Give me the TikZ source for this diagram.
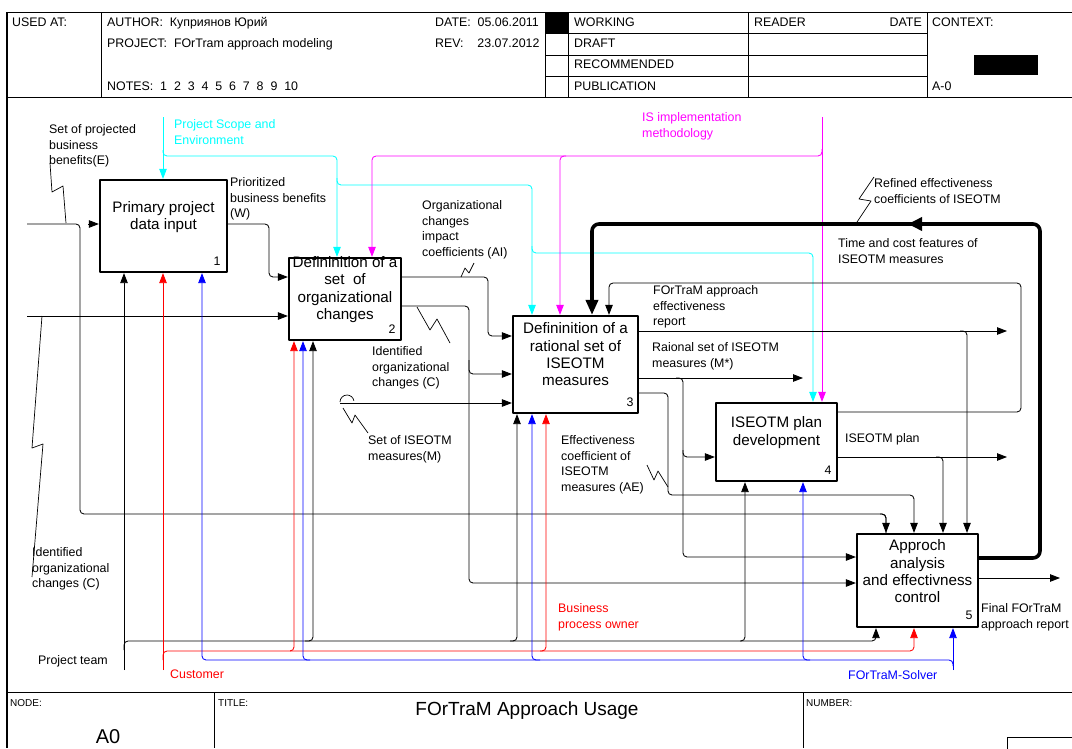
\documentclass[tikz,border=0pt]{standalone}
\usepackage{fontspec}
\setmainfont{Liberation Sans}
\usetikzlibrary{arrows.meta}
\definecolor{cyn}{RGB}{0,255,255}
\definecolor{mgn}{RGB}{255,0,255}
\definecolor{rdd}{RGB}{255,0,0}
\definecolor{blu}{RGB}{0,0,255}
\newcommand\lblfont{\fontsize{12.4}{15.6}\selectfont}
\newcommand\boxfont{\fontsize{15.2}{17.3}\selectfont}
\newcommand\hdrfont{\fontsize{12.4}{14}\selectfont}
\newcommand\smlfont{\fontsize{10}{12}\selectfont}
\begin{document}
\begin{tikzpicture}[x=1pt,y=-1pt,line join=round,
  box/.style={draw,line width=2.2pt,inner sep=0pt},
  btxt/.style={font=\boxfont,align=center,inner sep=0pt},
  num/.style={font=\lblfont,inner sep=0pt},
  lbl/.style={font=\lblfont,align=left,inner sep=0pt,anchor=north west},
  hdr/.style={font=\hdrfont,inner sep=0pt,anchor=base west},
  conn/.style={line width=0.85pt,rounded corners=4pt},
  arr/.style={conn,-{Triangle[length=10pt,width=7.5pt]}},
  frm/.style={line width=1pt},
  thk/.style={line width=3.6pt,rounded corners=7pt},
  sq/.style={line width=0.7pt},
  cy/.style={cyn},
  mg/.style={mgn},
  rd/.style={rdd},
  bl/.style={blu}]
\useasboundingbox (0,0) rectangle (1072,748);
% ---------- frame ----------
\draw[frm] (7,12) -- (1072,12);
\draw[frm] (7,97) -- (1072,97);
\draw[line width=1.2pt] (7,12) -- (7,748);
\foreach \xx in {101,545,568,748,927} \draw[frm] (\xx,12) -- (\xx,97);
\foreach \yy in {33,55,76} \draw[frm] (545,\yy) -- (927,\yy);
\fill (545,12) rectangle (568,33);
\fill (974,55) rectangle (1038,75);
\draw[frm] (7,692) -- (1072,692);
\draw[frm] (214,692) -- (214,748);
\draw[frm] (803,692) -- (803,748);
\draw[frm] (1007,737) rectangle (1080,760);
% header texts
\node[hdr] (hUsed) at (12,26.3) {USED AT:};
\node[hdr] (hAuth) at (107,26.3) {AUTHOR:\ \ Куприянов Юрий};
\node[hdr] (hProj) at (107,47.3) {PROJECT:\ \ FOrTram approach modeling};
\node[hdr] (hNotes) at (107,90.3) {NOTES:\ \ 1\ \ 2\ \ 3\ \ 4\ \ 5\ \ 6\ \ 7\ \ 8\ \ 9\ \ 10};
\node[hdr] (hDate) at (435,26.3) {DATE:\ \ 05.06.2011};
\node[hdr] (hRev) at (435,47.3) {REV:\ \ \ \ 23.07.2012};
\node[hdr] (hWork) at (574,26.3) {WORKING};
\node[hdr] (hDraft) at (574,47.3) {DRAFT};
\node[hdr] (hRec) at (574,68.3) {RECOMMENDED};
\node[hdr] (hPub) at (574,90.3) {PUBLICATION};
\node[hdr] (hRead) at (754,26.3) {READER};
\node[hdr,anchor=base east] (hRDate) at (922,26.3) {DATE};
\node[hdr] (hCtx) at (932,26.3) {CONTEXT:};
\node[hdr] (hA0) at (932,90.3) {A-0};
% title block
\node[inner sep=0pt,anchor=base west,font=\smlfont] (tNode) at (10,706.5) {NODE:};
\node[inner sep=0pt,anchor=base west,font=\smlfont] (tTitle) at (218,706.5) {TITLE:};
\node[inner sep=0pt,anchor=base west,font=\smlfont] (tNum) at (806,706.5) {NUMBER:};
\node[inner sep=0pt,font=\fontsize{20}{22}\selectfont] (tA0) at (108,737) {A0};
\node[inner sep=0pt,font=\fontsize{19}{22}\selectfont] (tMain) at (527,711) {FOrTraM Approach Usage};
% ---------- boxes ----------
\node[box,minimum width=127pt,minimum height=92pt] (b1) at (163.5,226) {};
\node[box,minimum width=112pt,minimum height=82pt] (b2) at (345,299) {};
\node[box,minimum width=125pt,minimum height=97pt] (b3) at (575.5,364.5) {};
\node[box,minimum width=121pt,minimum height=78pt] (b4) at (776.5,442) {};
\node[box,minimum width=121pt,minimum height=93pt] (b5) at (917.5,580.5) {};
\node[btxt] (t1) at (163.5,217) {Primary project\\data input};
\node[btxt] (t2) at (345,289.5) {Defininition of a\\set\ \ of\\organizational\\changes};
\node[btxt] (t3) at (575.5,354.5) {Defininition of a\\rational set of\\ISEOTM\\measures};
\node[btxt] (t4) at (776.5,432.5) {ISEOTM plan\\development};
\node[btxt] (t5) at (917.5,571.5) {Approch\\analysis\\and effectivness\\control};
\node[num] (n1) at (217,261) {1};
\node[num] (n2) at (392,329) {2};
\node[num] (n3) at (630,402) {3};
\node[num] (n4) at (828,470) {4};
\node[num] (n5) at (969,615) {5};
% ---------- free ends ----------
\coordinate (eIn) at (27,224);
\coordinate (cIn) at (27,316);
\coordinate (cyIn) at (163,117);
\coordinate (mgIn) at (822,117);
\coordinate (mIn) at (340,403);
\coordinate (ptIn) at (124,670);
\coordinate (cuIn) at (163,670);
\coordinate (fsIn) at (953,670);
\coordinate (repOut) at (1007,331);
\coordinate (msOut) at (803,378);
\coordinate (plOut) at (1007,457);
\coordinate (finOut) at (1060,578);
% ---------- inputs ----------
\draw[conn] (eIn) -- (80,224) -- (80,514) -| (886,0 |- b5.north);
\draw[arr] (880,514) -| (886,0 |- b5.north);
\draw[arr] (88,224) -- (b1.west |- 0,224);
\draw[arr] (cIn) -- (b2.west |- 0,316);
\draw[arr] (b1.east |- 0,224) -- (269,224) -- (269,277) -- (b2.west |- 0,277);
\draw[arr] (mIn) -- (b3.west |- 0,403);
\draw[sq] (340,402) arc[start angle=180,end angle=350,radius=7];
% ---------- controls ----------
\draw[arr,cy] (cyIn) -- (163,0 |- b1.north);
\draw[arr,cy] (163,150) |- (337,156) -- (337,0 |- b2.north);
\draw[arr,cy] (337,178) |- (532,185) -- (532,0 |- b3.north);
\draw[arr,cy] (532,246) |- (813,253) -- (813,0 |- b4.north);
\draw[arr,mg] (mgIn) -- (822,0 |- b4.north);
\draw[arr,mg] (822,149) |- (372,156) -- (372,0 |- b2.north);
\draw[arr,mg] (566,156) -| (560,0 |- b3.north);
% thick feedback
\draw[thk,-{Triangle[length=15pt,width=12pt]}] (b5.east |- 0,558) -- (1040,558) -- (1040,224) -- (592,224) -- (592,0 |- b3.north);
\draw[line width=3.6pt,-{Triangle[length=14pt,width=13pt]}] (935,224) -- (908,224);
% time and cost
\draw[arr] (b4.east |- 0,412) -- (1021,412) -- (1021,283) -- (609,283) -- (609,0 |- b3.north);
% box 3 outputs
\draw[arr] (b3.east |- 0,331) -- (repOut);
\draw[arr] (960,331) -| (967,0 |- b5.north);
\draw[arr] (b3.east |- 0,378) -- (msOut);
\draw[arr] (676,378) -| (683,440) |- (b4.west |- 0,457);
\draw[arr] (683,450) |- (b5.west |- 0,557);
\draw[arr] (b3.east |- 0,393) -- (668,393) -- (668,495) -| (914,0 |- b5.north);
% box 2 outputs
\draw[arr] (b2.east |- 0,277) -- (488,277) -- (488,336) -- (b3.west |- 0,336);
\draw[arr] (b2.east |- 0,306) -- (469,306) -- (469,374) -- (b3.west |- 0,374);
\draw[arr] (469,360) |- (b5.west |- 0,583);
% box 4 output
\draw[arr] (b4.east |- 0,457) -- (plOut);
\draw[arr] (936,457) -| (943,0 |- b5.north);
% box 5 output
\draw[arr] (b5.east |- 0,578) -- (finOut);
% ---------- mechanisms ----------
\draw[arr] (ptIn) -- (124,0 |- b1.south);
\draw[arr] (124,650) |- (313,641) -- (313,0 |- b2.south);
\draw[arr] (305,641) -| (517,0 |- b3.south);
\draw[arr] (510,641) -| (745,0 |- b4.south);
\draw[arr] (740,641) -| (876,0 |- b5.south);
\draw[arr,rd] (cuIn) -- (163,0 |- b1.south);
\draw[arr,rd] (163,660) |- (294,651) -- (294,0 |- b2.south);
\draw[arr,rd] (290,651) -| (546,0 |- b3.south);
\draw[arr,rd] (540,651) -| (914,0 |- b5.south);
\draw[arr,bl] (fsIn) -- (953,0 |- b5.south);
\draw[arr,bl] (953,666) |- (803,660) -- (803,0 |- b4.south);
\draw[arr,bl] (810,660) -| (532,0 |- b3.south);
\draw[arr,bl] (540,660) -| (303,0 |- b2.south);
\draw[arr,bl] (310,660) -| (202,0 |- b1.south);
% ---------- squiggles ----------
\draw[sq] (50,163) -- (52,192) -- (63,186) -- (66,223);
\draw[sq] (42,316) -- (32,448) -- (43,444) -- (32,577);
\draw[sq] (461,277) -- (465,268) -- (469,273) -- (474,263);
\draw[sq] (417,307) -- (430,330) -- (437,319) -- (450,343);
\draw[sq] (343,408) -- (352,423) -- (355,415) -- (368,433);
\draw[sq] (647,465) -- (654,480) -- (658,471) -- (668,487);
\draw[sq] (874,177) -- (859,199) -- (871,201) -- (857,222);
% ---------- labels ----------
\node[lbl] (lE) at (49,124.5) {Set of projected\\business\\benefits(E)};
\node[lbl] (lW) at (230,177.5) {Prioritized\\business benefits\\(W)};
\node[lbl] (lAI) at (422,200.5) {Organizational\\changes\\impact\\coefficients (AI)};
\node[lbl] (lC2) at (372,346.5) {Identified\\organizational\\changes (C)};
\node[lbl] (lM) at (368,435.5) {Set of ISEOTM\\measures(M)};
\node[lbl] (lAE) at (561,435.5) {Effectiveness\\coefficient of\\ISEOTM\\measures (AE)};
\node[lbl] (lMs) at (652,342.5) {Raional set of ISEOTM\\measures (M*)};
\node[lbl] (lRep) at (653,285.5) {FOrTraM approach\\effectiveness\\report};
\node[lbl] (lTC) at (838,238.5) {Time and cost features of\\ISEOTM measures};
\node[lbl] (lRef) at (874,178.5) {Refined effectiveness\\coefficients of ISEOTM};
\node[lbl] (lPlan) at (845,433.5) {ISEOTM plan};
\node[lbl] (lFin) at (981,603.5) {Final FOrTraM\\approach report};
\node[lbl] (lC1) at (32,547.5) {Identified\\organizational\\changes (C)};
\node[lbl,text=cyn] (lPS) at (174,119.5) {Project Scope and\\Environment};
\node[lbl,text=mgn] (lIS) at (642,112.5) {IS implementation\\methodology};
\node[lbl,text=rdd] (lBPO) at (558,603.5) {Business\\process owner};
\node[lbl] (lPT) at (38,655.5) {Project team};
\node[lbl,text=rdd] (lCu) at (170,669.5) {Customer};
\node[lbl,text=blu] (lFS) at (848,670.5) {FOrTraM-Solver};
\end{tikzpicture}
\end{document}
